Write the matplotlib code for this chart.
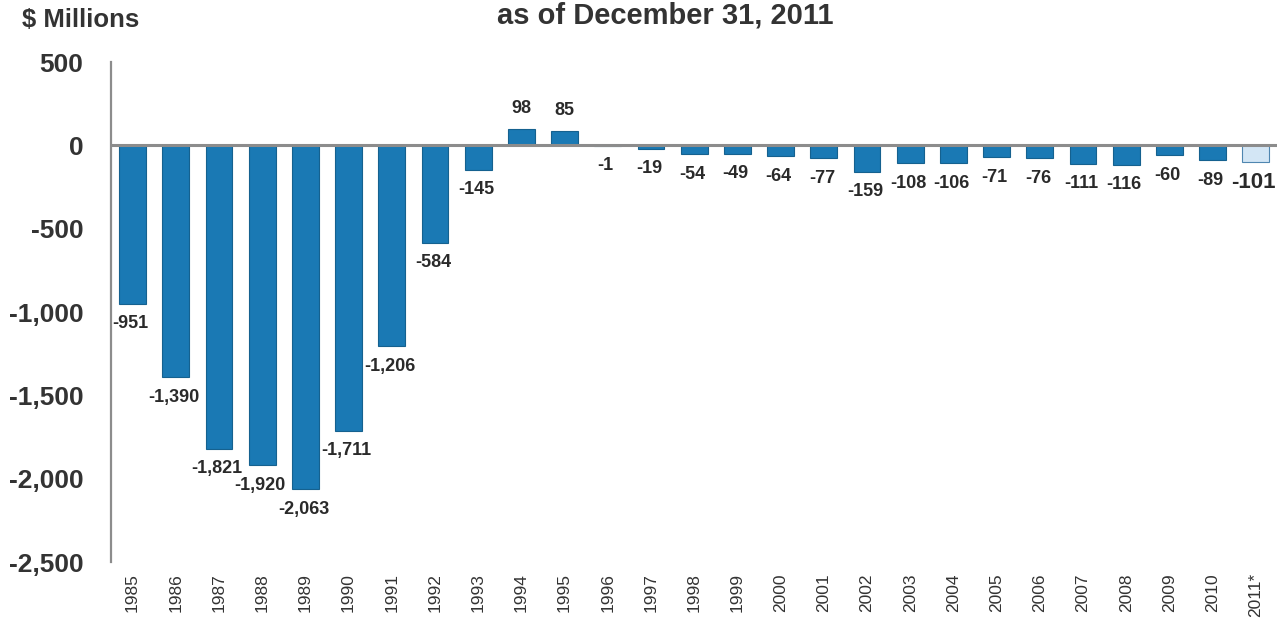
import matplotlib
matplotlib.use("Agg")
import matplotlib.pyplot as plt

plt.rcParams['font.family'] = ['Liberation Sans', 'DejaVu Sans']

years = ['1985', '1986', '1987', '1988', '1989', '1990', '1991', '1992', '1993',
         '1994', '1995', '1996', '1997', '1998', '1999', '2000', '2001', '2002',
         '2003', '2004', '2005', '2006', '2007', '2008', '2009', '2010', '2011*']
values = [-951, -1390, -1821, -1920, -2063, -1711, -1206, -584, -145,
          98, 85, -1, -19, -54, -49, -64, -77, -159,
          -108, -106, -71, -76, -111, -116, -60, -89, -101]
yticks = [500, 0, -500, -1000, -1500, -2000, -2500]
ytick_labels = ['500', '0', '-500', '-1,000', '-1,500', '-2,000', '-2,500']

fig = plt.figure(figsize=(12.8, 6.28), dpi=100)
ax = fig.add_axes([0.0867, 0.105, 0.9113, 0.796])

x = list(range(len(years)))
colors = ['#1a79b4'] * (len(years) - 1) + ['#d3e6f5']
edges = ['#15618f'] * (len(years) - 1) + ['#4f86b0']
ax.bar(x, values, width=0.62, color=colors, edgecolor=edges, linewidth=0.8, zorder=2)

ax.set_xlim(-0.5, len(years) - 0.5)
ax.set_ylim(-2500, 500)
ax.axhline(0, color='#8c8c8c', linewidth=2.2, zorder=3)

for spine in ['top', 'right', 'bottom']:
    ax.spines[spine].set_visible(False)
ax.spines['left'].set_color('#8c8c8c')
ax.spines['left'].set_linewidth(1.6)

ax.set_yticks(yticks)
ax.set_yticklabels(ytick_labels, fontsize=19, fontweight='bold', color='#333333')
ax.tick_params(axis='y', length=0, pad=20)
ax.set_xticks(x)
ax.set_xticklabels(years, rotation=90, fontsize=12.5, color='#333333', va='top')
ax.tick_params(axis='x', length=0, pad=8)

for i, v in enumerate(values):
    label = f"{v:,}"
    if i == len(values) - 1:
        ax.annotate(label, (i, v), xytext=(-2, -20), textcoords='offset pixels',
                    ha='center', va='center', fontsize=16, fontweight='bold',
                    color='#2a2a2a')
    elif v >= 0:
        ax.annotate(label, (i, v), xytext=(0, 21), textcoords='offset pixels',
                    ha='center', va='center', fontsize=13, fontweight='bold',
                    color='#2a2a2a')
    else:
        ax.annotate(label, (i, v), xytext=(-2, -20), textcoords='offset pixels',
                    ha='center', va='center', fontsize=13, fontweight='bold',
                    color='#2a2a2a')

fig.text(0.017, 0.968, '$ Millions', fontsize=18.5, fontweight='bold',
         color='#333333', ha='left', va='center')
fig.text(0.52, 0.976, 'as of December 31, 2011', fontsize=21, fontweight='bold',
         color='#333333', ha='center', va='center')

fig.savefig('out.png', dpi=100)
